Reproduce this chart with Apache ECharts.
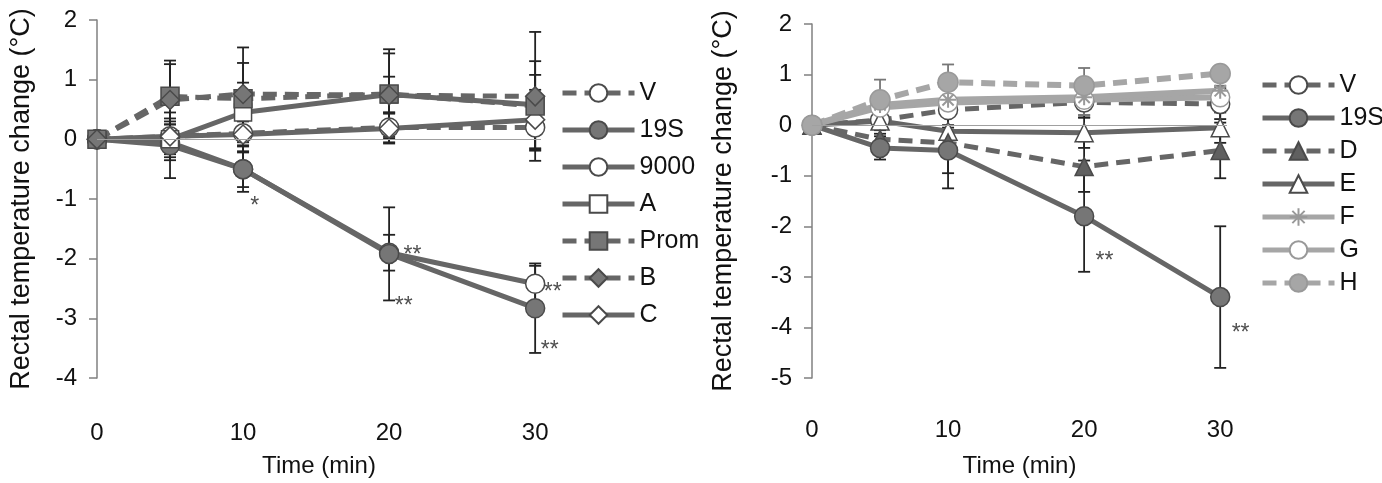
<!DOCTYPE html>
<html>
<head>
<meta charset="utf-8">
<script src="https://cdn.jsdelivr.net/npm/echarts@6/dist/echarts.min.js"></script>
<style>
html, body { margin: 0; padding: 0; background: #fff; }
#chart { width: 1382px; height: 483px; }
</style>
</head>
<body>
<div id="chart"></div>
<script>
const times = [0, 5, 10, 20, 30];
const xTicks = [0, 10, 20, 30];

// left panel
const leftNames = ["V", "19S", "9000", "A", "Prom", "B", "C"];
const leftV = [0, 0.05, 0.1, 0.2, 0.2];
const leftVErr = [0, 0.2, 0.2, 0.25, 0.35];
const left19S = [0, -0.1, -0.5, -1.92, -2.83];
const left19SErr = [0, 0.55, 0.38, 0.78, 0.75];
const left9000 = [0, -0.05, -0.5, -1.9, -2.42];
const left9000Err = [0, 0.3, 0.3, 0.3, 0.3];
const leftA = [0, 0.0, 0.45, 0.75, 0.58];
const leftAErr = [0, 0.3, 0.5, 0.3, 0.5];
const leftProm = [0, 0.72, 0.68, 0.76, 0.56];
const leftPromErr = [0, 0.6, 0.6, 0.75, 0.75];
const leftB = [0, 0.66, 0.76, 0.74, 0.72];
const leftBErr = [0, 0.6, 0.78, 0.7, 1.08];
const leftC = [0, 0.05, 0.08, 0.18, 0.33];
const leftCErr = [0, 0.3, 0.3, 0.25, 0.5];
const leftStars = [[10.8, -1.13, "*"], [21.6, -1.95, "**"], [21.0, -2.8, "**"], [31.2, -2.57, "**"], [31.0, -3.55, "**"]];

// right panel
const rightNames = ["V", "19S", "D", "E", "F", "G", "H"];
const rightV = [0, 0.1, 0.3, 0.45, 0.42];
const rightVErr = [0, 0.2, 0.3, 0.3, 0.3];
const right19S = [0, -0.45, -0.5, -1.8, -3.4];
const right19SErr = [0, 0.23, 0.45, 1.1, 1.4];
const rightD = [0, -0.28, -0.35, -0.82, -0.5];
const rightDErr = [0, 0.2, 0.9, 0.5, 0.55];
const rightE = [0, 0.08, -0.12, -0.15, -0.05];
const rightEErr = [0, 0.25, 0.3, 0.3, 0.3];
const rightF = [0, 0.4, 0.5, 0.55, 0.68];
const rightFErr = [0, 0.2, 0.3, 0.35, 0.1];
const rightG = [0, 0.35, 0.45, 0.5, 0.55];
const rightGErr = [0, 0.2, 0.25, 0.3, 0.2];
const rightH = [0, 0.5, 0.85, 0.78, 1.02];
const rightHErr = [0, 0.4, 0.35, 0.35, 0.1];
const rightStars = [[21.5, -2.7, "**"], [31.5, -4.12, "**"]];

const DARK = "#666666";
const LIGHT = "#a6a6a6";
const FONT = "Liberation Sans";
const asterisk = "path://M0,5 L10,5 M5,0 L5,10 M1.5,1.5 L8.5,8.5 M8.5,1.5 L1.5,8.5";

function renderErr(params, api) {
    const x = api.value(0);
    const lo = api.coord([x, api.value(1)]);
    const hi = api.coord([x, api.value(2)]);
    const w = 6;
    const style = { stroke: api.visual("color"), lineWidth: 1.8 };
    return {
        type: "group",
        children: [
            { type: "line", shape: { x1: lo[0], y1: lo[1], x2: hi[0], y2: hi[1] }, style: style },
            { type: "line", shape: { x1: lo[0] - w, y1: lo[1], x2: lo[0] + w, y2: lo[1] }, style: style },
            { type: "line", shape: { x1: hi[0] - w, y1: hi[1], x2: hi[0] + w, y2: hi[1] }, style: style },
        ],
    };
}

// one line series plus its error bars
function makeSeries(name, vals, err, look, idx) {
    const errData = [];
    for (let i = 0; i < times.length; i++) {
        if (err[i] > 0) errData.push([times[i], vals[i] - err[i], vals[i] + err[i]]);
    }
    const line = {
        type: "line",
        name: name,
        xAxisIndex: idx,
        yAxisIndex: idx,
        data: times.map((t, i) => [t, vals[i]]),
        symbol: look.symbol,
        symbolSize: look.size || 19,
        lineStyle: { color: look.color, width: look.width || 5, type: look.dashed ? [14, 8] : "solid" },
        itemStyle: {
            color: look.fill,
            borderColor: look.border || "#4a4a4a",
            borderWidth: look.bw || 1.5,
        },
        z: 3,
    };
    const bars = {
        type: "custom",
        name: name + " err",
        xAxisIndex: idx,
        yAxisIndex: idx,
        renderItem: renderErr,
        itemStyle: { color: look.errColor || "#222" },
        data: errData,
        z: 1,
    };
    return [bars, line];
}

function starSeries(stars, idx) {
    return {
        type: "scatter",
        xAxisIndex: idx,
        yAxisIndex: idx,
        symbolSize: 0,
        clip: false,
        data: stars,
        label: {
            show: true,
            position: "inside",
            formatter: (p) => p.data[2],
            fontSize: 23,
            fontFamily: FONT,
            color: "#222",
        },
        z: 1,
    };
}

function zeroLine(idx) {
    return {
        type: "line",
        xAxisIndex: idx,
        yAxisIndex: idx,
        data: [],
        markLine: {
            silent: true,
            symbol: "none",
            label: { show: false },
            lineStyle: { color: "#a0a0a0", width: 1, type: "solid" },
            data: [{ yAxis: 0 }],
        },
        z: 0,
    };
}

const series = [zeroLine(0), zeroLine(1), starSeries(leftStars, 0), starSeries(rightStars, 1)];

// left panel, drawing order chosen so overlaps look like the figure
[
    ["V", leftV, leftVErr, { symbol: "circle", fill: "#fff", color: DARK, dashed: true }],
    ["9000", left9000, left9000Err, { symbol: "circle", fill: "#fff", color: DARK }],
    ["19S", left19S, left19SErr, { symbol: "circle", fill: "#767676", color: DARK }],
    ["A", leftA, leftAErr, { symbol: "rect", size: 17, fill: "#fff", color: DARK }],
    ["C", leftC, leftCErr, { symbol: "diamond", size: 19, fill: "#fff", color: DARK }],
    ["Prom", leftProm, leftPromErr, { symbol: "rect", size: 18, fill: "#767676", color: DARK, dashed: true }],
    ["B", leftB, leftBErr, { symbol: "diamond", size: 19, fill: "#767676", color: DARK, dashed: true }],
].forEach((s) => series.push(...makeSeries(s[0], s[1], s[2], s[3], 0)));

[
    ["V", rightV, rightVErr, { symbol: "circle", fill: "#fff", color: DARK, dashed: true }],
    ["E", rightE, rightEErr, { symbol: "triangle", size: 18, fill: "#fff", color: DARK }],
    ["D", rightD, rightDErr, { symbol: "triangle", size: 18, fill: "#606060", color: DARK, dashed: true }],
    ["19S", right19S, right19SErr, { symbol: "circle", fill: "#767676", color: DARK }],
    ["G", rightG, rightGErr, { symbol: "circle", fill: "#fff", color: LIGHT, border: "#999", errColor: "#777", width: 6 }],
    ["F", rightF, rightFErr, { symbol: asterisk, size: 16, fill: LIGHT, color: LIGHT, border: "#999", bw: 2, errColor: "#777", width: 6 }],
    ["H", rightH, rightHErr, { symbol: "circle", size: 20, fill: LIGHT, color: LIGHT, border: "#999", dashed: true, errColor: "#777", width: 6 }],
].forEach((s) => series.push(...makeSeries(s[0], s[1], s[2], s[3], 1)));

function xAxis(idx, margin) {
    return {
        type: "value",
        gridIndex: idx,
        min: 0,
        max: idx === 0 ? 30.4 : 30.5,
        interval: 10,
        name: "Time (min)",
        nameLocation: "middle",
        nameGap: 76,
        nameTextStyle: { fontSize: 24, fontFamily: FONT, color: "#111" },
        axisLine: { show: false },
        axisTick: { show: false },
        splitLine: { show: false },
        axisLabel: {
            fontSize: 24,
            fontFamily: FONT,
            color: "#111",
            margin: margin,
            formatter: (v) => (xTicks.indexOf(v) >= 0 ? String(v) : ""),
        },
    };
}

function yAxis(idx, min, gap) {
    return {
        type: "value",
        gridIndex: idx,
        min: min,
        max: 2,
        interval: 1,
        name: "Rectal temperature change (°C)",
        nameLocation: "middle",
        nameGap: gap,
        nameTextStyle: { fontSize: 27, fontFamily: FONT, color: "#111" },
        axisLine: { show: true, lineStyle: { color: "#808080", width: 1.5 } },
        axisTick: { show: true, length: 8, lineStyle: { color: "#808080", width: 1.5 } },
        splitLine: { show: false },
        axisLabel: { fontSize: 24, fontFamily: FONT, color: "#111", margin: 20 },
    };
}

function legend(names, left, top, gap) {
    return {
        orient: "vertical",
        left: left,
        top: top,
        data: names,
        itemWidth: 72,
        itemHeight: 22,
        itemGap: gap,
        lineStyle: { width: 5 },
        textStyle: { fontSize: 25, fontFamily: FONT, color: "#111", lineHeight: 26 },
        selectedMode: false,
    };
}

const chart = echarts.init(document.getElementById("chart"));
chart.setOption({
    animation: false,
    backgroundColor: "#fff",
    grid: [
        { left: 97, top: 20, width: 444, height: 360 },
        { left: 812, top: 24, width: 415, height: 359 },
    ],
    xAxis: [xAxis(0, 43), xAxis(1, 40)],
    yAxis: [yAxis(0, -4, 62), yAxis(1, -5, 75)],
    legend: [legend(leftNames, 555, 75, 11), legend(rightNames, 1255, 67, 7)],
    series: series,
});
</script>
</body>
</html>
